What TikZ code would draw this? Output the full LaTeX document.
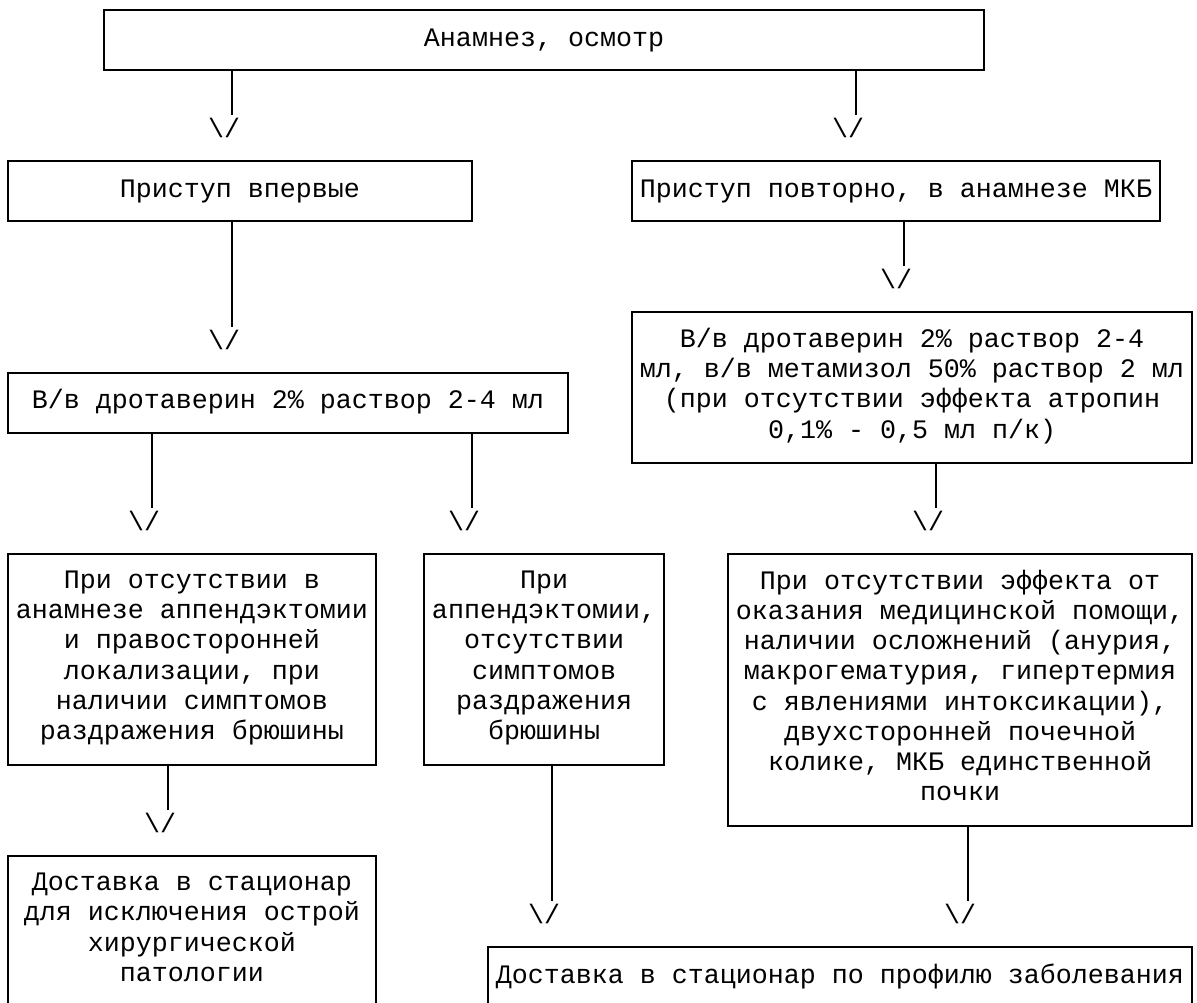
\documentclass[tikz,border=0pt]{standalone}
\usepackage{fontspec}
\newfontfamily\monofam{Liberation Mono}
\usepackage{tikz}

\begin{document}
\begin{tikzpicture}[x=12pt, y=-22.67pt,
    block/.style={draw, line width=1.5pt, inner sep=0pt, align=center,
      font=\monofam\fontsize{20pt}{22.67pt}\selectfont,
      execute at begin node=\strut, execute at end node=\strut},
    vmark/.style={inner sep=0pt, font=\monofam\fontsize{20pt}{22.67pt}\selectfont},
    wire/.style={line width=1.5pt, shorten >=2pt}]
  \clip (-0.5,-1.323) rectangle (74.31,31.856);
  % boxes
  \node[block, minimum width=660pt, minimum height=45.34pt] (exam) at (33.5,0) {Анамнез, осмотр};
  \node[block, minimum width=348pt, minimum height=45.34pt] (first) at (14.5,5) {Приступ впервые};
  \node[block, minimum width=396pt, minimum height=45.34pt] (again) at (55.5,5) {Приступ повторно, в анамнезе МКБ};
  \node[block, minimum width=420pt, minimum height=45.34pt] (drotl) at (17.5,12) {В/в дротаверин 2\% раствор 2-4 мл};
  \node[block, minimum width=420pt, minimum height=113.35pt] (drotr) at (56.5,11.5)
    {В/в дротаверин 2\% раствор 2-4\\мл, в/в метамизол 50\% раствор 2 мл\\(при отсутствии эффекта атропин\\0,1\% - 0,5 мл п/к)};
  \node[block, minimum width=276pt, minimum height=158.69pt] (noappx) at (11.5,20.5)
    {При отсутствии в\\анамнезе аппендэктомии\\и правосторонней\\локализации, при\\наличии симптомов\\раздражения брюшины};
  \node[block, minimum width=180pt, minimum height=158.69pt] (appx) at (33.5,20.5)
    {При\\аппендэктомии,\\отсутствии\\симптомов\\раздражения\\брюшины};
  \node[block, minimum width=348pt, minimum height=204.03pt] (compl) at (59.5,21.5)
    {При отсутствии эффекта от\\оказания медицинской помощи,\\наличии осложнений (анурия,\\макрогематурия, гипертермия\\с явлениями интоксикации),\\двухсторонней почечной\\колике, МКБ единственной\\почки};
  \node[block, minimum width=276pt, minimum height=113.35pt] (surg) at (11.5,29.5)
    {Доставка в стационар\\для исключения острой\\хирургической\\патологии};
  \node[block, minimum width=528pt, minimum height=45.34pt] (hosp) at (52,31) {Доставка в стационар по профилю заболевания};
  % arrow marks
  \node[vmark] (t1) at (14,2.91) {\llap{\textbackslash}/};
  \node[vmark] (t2) at (53,2.91) {\llap{\textbackslash}/};
  \node[vmark] (t3) at (14,9.91) {\llap{\textbackslash}/};
  \node[vmark] (t4) at (56,7.91) {\llap{\textbackslash}/};
  \node[vmark] (t5) at (9,15.91) {\llap{\textbackslash}/};
  \node[vmark] (t6) at (29,15.91) {\llap{\textbackslash}/};
  \node[vmark] (t7) at (58,15.91) {\llap{\textbackslash}/};
  \node[vmark] (t8) at (10,25.91) {\llap{\textbackslash}/};
  \node[vmark] (t9) at (34,28.91) {\llap{\textbackslash}/};
  \node[vmark] (t10) at (60,28.91) {\llap{\textbackslash}/};
  % connectors
  \draw[wire] (exam.south -| t1) -- (t1);
  \draw[wire] (exam.south -| t2) -- (t2);
  \draw[wire] (first.south -| t3) -- (t3);
  \draw[wire] (again.south -| t4) -- (t4);
  \draw[wire] (drotl.south -| t5) -- (t5);
  \draw[wire] (drotl.south -| t6) -- (t6);
  \draw[wire] (drotr.south -| t7) -- (t7);
  \draw[wire] (noappx.south -| t8) -- (t8);
  \draw[wire] (appx.south -| t9) -- (t9);
  \draw[wire] (compl.south -| t10) -- (t10);
\end{tikzpicture}
\end{document}
